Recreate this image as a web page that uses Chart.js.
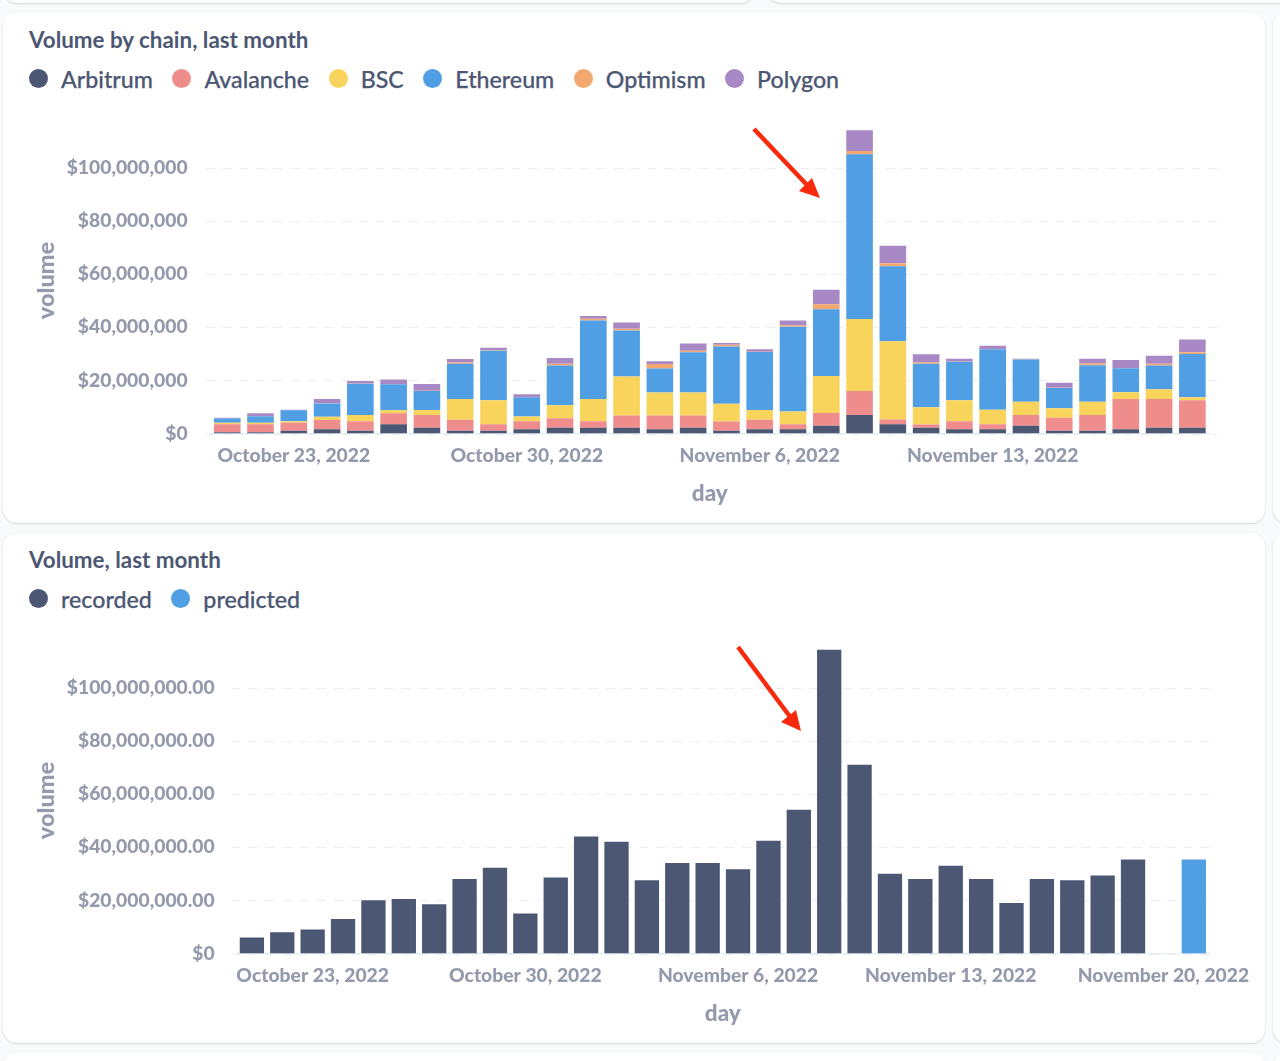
<!DOCTYPE html>
<html>
<head>
<meta charset="utf-8">
<script src="https://cdn.jsdelivr.net/npm/chart.js@4"></script>
<style>
  html, body { margin: 0; padding: 0; background: #f9fafb; }
  body { position: relative; width: 1280px; height: 1061px; overflow: hidden; font-family: Lato, sans-serif; }
  .card { position: absolute; background: #fff; border-radius: 14px; box-shadow: 0 1px 2px rgba(0,0,0,.13), 0 0 3px rgba(0,0,0,.04); }
  .title { position: absolute; left: 29px; font-size: 22.4px; font-weight: 700; color: #4c5773; white-space: nowrap; line-height: 28px; }
  .legend { position: absolute; left: 29px; display: flex; align-items: center; font-size: 23.2px; font-weight: 500; -webkit-text-stroke: 0.25px #4c5773; color: #4c5773; line-height: 28px; white-space: nowrap; }
  .legend span.item { display: flex; align-items: center; margin-right: 19.5px; }
  .legend i { display: block; width: 19px; height: 19px; border-radius: 50%; margin-right: 13px; margin-top: -2px; }
  canvas { position: absolute; }
  svg { position: absolute; left: 0; top: 0; pointer-events: none; }
</style>
</head>
<body>
<!-- cartes voisines du tableau de bord -->
<div class="card" style="left:3px;top:-60px;width:752px;height:63px"></div>
<div class="card" style="left:767px;top:-60px;width:600px;height:63px"></div>
<div class="card" style="left:1273px;top:12px;width:100px;height:511px"></div>
<div class="card" style="left:1273px;top:533px;width:100px;height:510px"></div>
<div class="card" style="left:3px;top:1052px;width:1262px;height:60px"></div>
<div class="card" style="left:1273px;top:1052px;width:100px;height:60px"></div>

<div class="card" style="left:3px;top:12px;width:1262px;height:511px"></div>
<div class="card" style="left:3px;top:533px;width:1262px;height:510px"></div>

<div class="title" style="top:26px">Volume by chain, last month</div>
<div class="legend" id="legend1" style="top:65px"></div>
<div class="title" style="top:546px">Volume, last month</div>
<div class="legend" id="legend2" style="top:585px"></div>

<canvas id="chainChart" width="1262" height="410" style="left:3px;top:110px"></canvas>
<canvas id="volumeChart" width="1262" height="410" style="left:3px;top:630px"></canvas>

<!-- flèches rouges -->
<svg width="1280" height="1061">
  <line x1="754" y1="129" x2="808" y2="186" stroke="#f9290c" stroke-width="4.5"/>
  <polygon points="820,198 799,191 812,178" fill="#f9290c"/>
  <line x1="738" y1="647" x2="791" y2="718" stroke="#f9290c" stroke-width="4.5"/>
  <polygon points="801,731 781,722 796,710" fill="#f9290c"/>
</svg>

<script>
// Dates, 30 jours puis les 2 jours de la prévision
const days = [
  'October 21, 2022', 'October 22, 2022', 'October 23, 2022', 'October 24, 2022', 'October 25, 2022',
  'October 26, 2022', 'October 27, 2022', 'October 28, 2022', 'October 29, 2022', 'October 30, 2022',
  'October 31, 2022', 'November 1, 2022', 'November 2, 2022', 'November 3, 2022', 'November 4, 2022',
  'November 5, 2022', 'November 6, 2022', 'November 7, 2022', 'November 8, 2022', 'November 9, 2022',
  'November 10, 2022', 'November 11, 2022', 'November 12, 2022', 'November 13, 2022', 'November 14, 2022',
  'November 15, 2022', 'November 16, 2022', 'November 17, 2022', 'November 18, 2022', 'November 19, 2022'
];
const forecastDays = ['November 20, 2022', 'November 21, 2022'];

const xTicks1 = ['October 23, 2022', 'October 30, 2022', 'November 6, 2022', 'November 13, 2022'];
const xTicks2 = ['October 23, 2022', 'October 30, 2022', 'November 6, 2022', 'November 13, 2022', 'November 20, 2022'];

// Volumes en millions de dollars
const arbitrum = [0.5, 0.5, 1, 1.6, 1, 3.5, 2.2, 1, 1, 1.6, 2.2, 2.2, 2.2, 1.6, 2.2, 1, 1.6, 1.6, 2.9, 7, 3.5, 2.2, 1.6, 1.6, 2.9, 1, 1, 1.6, 2.2, 2.2];
const avalanche = [3, 3, 3, 3.5, 3.6, 4.1, 4.8, 4.2, 2.5, 3, 3.5, 2.4, 4.6, 5.2, 4.6, 3.5, 3.6, 1.9, 4.8, 9, 1.8, 1.2, 3, 1.9, 4.1, 4.9, 6, 11.4, 10.8, 10.3];
const bsc = [0.5, 0.5, 0.6, 1.2, 2.4, 1.1, 1.8, 7.8, 9, 1.8, 4.9, 8.4, 14.6, 8.6, 8.6, 6.7, 3.6, 4.8, 13.9, 27, 29.4, 6.5, 7.9, 5.4, 4.9, 3.6, 4.9, 2.5, 3.6, 1.1];
const ethereum = [1.6, 2.5, 4.1, 5, 11.7, 9.8, 7.2, 13.2, 18.6, 7.2, 15, 29.5, 17.3, 9, 15.1, 21.5, 21.8, 31.8, 25.1, 62, 28.2, 16.3, 14.5, 22.8, 15.9, 7.6, 13.8, 9, 9, 16.3];
const optimism = [0, 0.1, 0, 0.1, 0.1, 0.1, 0.1, 0.5, 0.2, 0.1, 0.6, 0.6, 0.7, 1.7, 0.6, 0.7, 0.1, 0.6, 1.9, 1.2, 1.1, 0.6, 0.1, 0.1, 0.1, 0.1, 0.6, 0.1, 0.6, 0.6];
const polygon = [0.3, 1, 0.2, 1.6, 0.9, 1.7, 2.5, 1.3, 0.9, 1.1, 2.2, 1.1, 2.3, 1.1, 2.7, 0.6, 1, 1.8, 5.4, 7.8, 6.6, 3, 1, 1.2, 0.2, 1.9, 1.8, 3, 3, 4.8];

const recorded = [6, 8, 9, 13, 20, 20.5, 18.5, 28, 32.2, 15, 28.6, 44, 42, 27.5, 34, 34, 31.7, 42.4, 54, 114.2, 71, 30, 28, 33, 28, 19, 28, 27.5, 29.3, 35.3, null, null];
const predicted = [null, null, null, null, null, null, null, null, null, null, null, null, null, null, null, null, null, null, null, null, null, null, null, null, null, null, null, null, null, null, null, 35.3];

const chainNames = ['Arbitrum', 'Avalanche', 'BSC', 'Ethereum', 'Optimism', 'Polygon'];
const chainValues = [arbitrum, avalanche, bsc, ethereum, optimism, polygon];
const chainColors = ['#4c5773', '#ef8c8c', '#f9d45c', '#509ee3', '#f2a86f', '#a989c5'];

const volumeNames = ['recorded', 'predicted'];
const volumeValues = [recorded, predicted];
const volumeColors = ['#4c5773', '#509ee3'];

const tickColor = '#949aab';

// Légende en HTML
function buildLegend(id, names, colors) {
  const el = document.getElementById(id);
  names.forEach((name, i) => {
    const item = document.createElement('span');
    item.className = 'item';
    item.innerHTML = '<i style="background:' + colors[i] + '"></i>' + name;
    el.appendChild(item);
  });
}
buildLegend('legend1', chainNames, chainColors);
buildLegend('legend2', volumeNames, volumeColors);

// Grille pointillée, plus large que la zone des barres
const dashedGrid = {
  id: 'dashedGrid',
  beforeDatasetsDraw(chart) {
    const { ctx, chartArea, scales } = chart;
    ctx.save();
    ctx.strokeStyle = '#eceef1';
    ctx.lineWidth = 1;
    ctx.setLineDash([9, 8]);
    scales.y.ticks.forEach(t => {
      const y = Math.round(scales.y.getPixelForValue(t.value)) + 0.5;
      ctx.beginPath();
      ctx.moveTo(chartArea.left - 5, y);
      ctx.lineTo(1215, y);
      ctx.stroke();
    });
    ctx.restore();
  }
};

function makeChart(id, labels, names, values, colors, xTicks, decimals, left, tickGap) {
  const money = v => {
    if (v === 0) return '$0';
    return '$' + (v * 1000000).toLocaleString('en-US', { minimumFractionDigits: decimals, maximumFractionDigits: decimals });
  };
  return new Chart(document.getElementById(id), {
    type: 'bar',
    plugins: [dashedGrid],
    data: {
      labels: labels,
      datasets: names.map((name, i) => ({
        label: name,
        data: values[i],
        backgroundColor: colors[i],
        barPercentage: 0.8,
        categoryPercentage: 1
      }))
    },
    options: {
      responsive: false,
      animation: false,
      layout: { padding: { left: 29, top: 17.6, right: 56, bottom: 13 } },
      plugins: { legend: { display: false }, tooltip: { enabled: false } },
      scales: {
        x: {
          stacked: true,
          offset: true,
          grid: { display: false, drawTicks: false },
          border: { display: true, color: '#e3ebf5' },
          ticks: {
            autoSkip: false,
            maxRotation: 0,
            minRotation: 0,
            padding: 11,
            color: tickColor,
            font: { family: 'Lato', size: 19.3, weight: '900' },
            callback(v) {
              const label = this.getLabelForValue(v);
              return xTicks.includes(label) ? label : '';
            }
          },
          title: {
            display: true,
            text: 'day',
            color: tickColor,
            font: { family: 'Lato', size: 22.5, weight: '900' },
            padding: { top: 12, bottom: 0 }
          },
          afterFit(s) { s.height = 73.5; s.paddingLeft = 0; s.paddingRight = 0; }
        },
        y: {
          stacked: true,
          min: 0,
          max: 115,
          grid: { display: false, drawTicks: false },
          border: { display: false },
          ticks: {
            stepSize: 20,
            includeBounds: false,
            padding: tickGap,
            color: tickColor,
            font: { family: 'Lato', size: 19.3, weight: '900' },
            callback: money
          },
          title: {
            display: true,
            text: 'volume',
            color: tickColor,
            font: { family: 'Lato', size: 23.5, weight: '900' },
            padding: 0
          },
          afterFit(s) { s.width = left - 3 - 29; s.paddingTop = 0; s.paddingBottom = 0; }
        }
      }
    }
  });
}

makeChart('chainChart', days, chainNames, chainValues, chainColors, xTicks1, 0, 210.6, 23);
makeChart('volumeChart', days.concat(forecastDays), volumeNames, volumeValues, volumeColors, xTicks2, 2, 236.7, 22);
</script>
</body>
</html>
